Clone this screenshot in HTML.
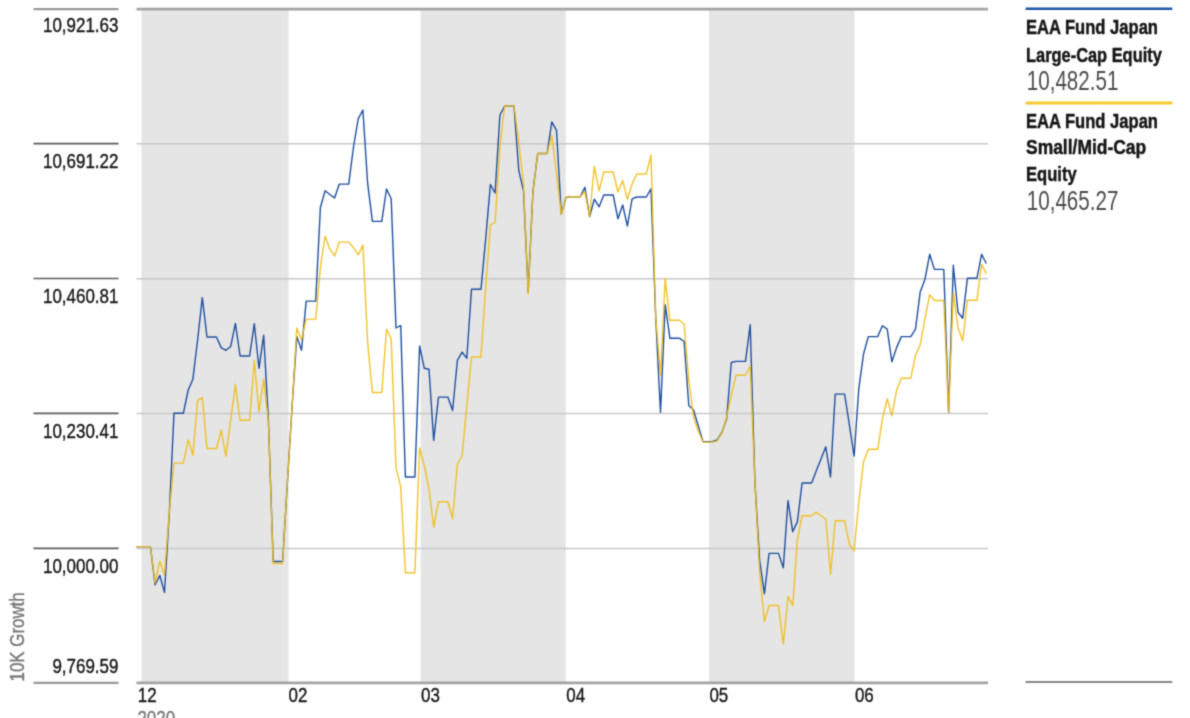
<!DOCTYPE html>
<html lang="en">
<head>
<meta charset="utf-8">
<title>10K Growth</title>
<style>
html,body{margin:0;padding:0;background:#fff;}
body{width:1190px;height:718px;overflow:hidden;}
svg{display:block;font-family:"Liberation Sans", sans-serif;}
</style>
</head>
<body>
<svg width="1190" height="718" viewBox="0 0 1190 718">
<defs><filter id="soft" x="0" y="0" width="1190" height="718" filterUnits="userSpaceOnUse" color-interpolation-filters="sRGB"><feConvolveMatrix order="3" kernelMatrix="1 4 1 4 16 4 1 4 1" divisor="36" edgeMode="duplicate" preserveAlpha="true"/></filter></defs>
<g filter="url(#soft)">
<rect width="1190" height="718" fill="#fff"/>
<g fill="#e5e5e5">
<rect x="141.5" y="10" width="147.1" height="673"/>
<rect x="420.6" y="10" width="145.2" height="673"/>
<rect x="709.0" y="10" width="145.5" height="673"/>
</g>
<g stroke="#c8c8c8" stroke-width="1.5">
<line x1="136.5" x2="988" y1="143.8" y2="143.8"/>
<line x1="136.5" x2="988" y1="278.7" y2="278.7"/>
<line x1="136.5" x2="988" y1="413.6" y2="413.6"/>
<line x1="136.5" x2="988" y1="548.5" y2="548.5"/>
</g>
<g stroke="#a3a3a3" stroke-width="2.6">
<line x1="136.5" x2="988" y1="9.1" y2="9.1"/>
<line x1="136.5" x2="988" y1="682.9" y2="682.9"/>
</g>
<g stroke="#999" stroke-width="2.4">
<line x1="33.5" x2="118.5" y1="9.1" y2="9.1"/>
<line x1="33.5" x2="118.5" y1="682.9" y2="682.9"/>
</g>
<g stroke="#5c5c5c" stroke-width="1.7">
<line x1="33.5" x2="118.5" y1="143.6" y2="143.6"/>
<line x1="33.5" x2="118.5" y1="278.5" y2="278.5"/>
<line x1="33.5" x2="118.5" y1="413.4" y2="413.4"/>
<line x1="33.5" x2="118.5" y1="548.3" y2="548.3"/>
</g>
<text transform="translate(118.4,32.4) scale(0.808,1)" font-size="21" fill="#161616" stroke="#161616" stroke-width="0.4" font-weight="normal" text-anchor="end">10,921.63</text>
<text transform="translate(118.4,168.0) scale(0.808,1)" font-size="21" fill="#161616" stroke="#161616" stroke-width="0.4" font-weight="normal" text-anchor="end">10,691.22</text>
<text transform="translate(118.4,302.8) scale(0.808,1)" font-size="21" fill="#161616" stroke="#161616" stroke-width="0.4" font-weight="normal" text-anchor="end">10,460.81</text>
<text transform="translate(118.4,437.8) scale(0.808,1)" font-size="21" fill="#161616" stroke="#161616" stroke-width="0.4" font-weight="normal" text-anchor="end">10,230.41</text>
<text transform="translate(118.4,572.7) scale(0.808,1)" font-size="21" fill="#161616" stroke="#161616" stroke-width="0.4" font-weight="normal" text-anchor="end">10,000.00</text>
<text transform="translate(118.4,673.3) scale(0.808,1)" font-size="21" fill="#161616" stroke="#161616" stroke-width="0.4" font-weight="normal" text-anchor="end">9,769.59</text>
<text transform="translate(24.3,681.5) rotate(-90) scale(0.805,1)" font-size="21" fill="#777" stroke="#777" stroke-width="0.4">10K Growth</text>
<text transform="translate(137.7,701.5) scale(0.808,1)" font-size="21" fill="#161616" stroke="#161616" stroke-width="0.4" font-weight="normal" text-anchor="start">12</text>
<text transform="translate(288.6,701.5) scale(0.808,1)" font-size="21" fill="#161616" stroke="#161616" stroke-width="0.4" font-weight="normal" text-anchor="start">02</text>
<text transform="translate(421.0,701.5) scale(0.808,1)" font-size="21" fill="#161616" stroke="#161616" stroke-width="0.4" font-weight="normal" text-anchor="start">03</text>
<text transform="translate(566.2,701.5) scale(0.808,1)" font-size="21" fill="#161616" stroke="#161616" stroke-width="0.4" font-weight="normal" text-anchor="start">04</text>
<text transform="translate(709.4,701.5) scale(0.808,1)" font-size="21" fill="#161616" stroke="#161616" stroke-width="0.4" font-weight="normal" text-anchor="start">05</text>
<text transform="translate(854.9,701.5) scale(0.808,1)" font-size="21" fill="#161616" stroke="#161616" stroke-width="0.4" font-weight="normal" text-anchor="start">06</text>
<text transform="translate(137.4,724.5) scale(0.808,1)" font-size="21" fill="#777" stroke="#777" stroke-width="0.4" font-weight="normal" text-anchor="start">2020</text>
<polyline fill="none" stroke="#1f4f9f" stroke-width="1.4" stroke-linejoin="round" points="136.2,546.6 140.9,546.6 145.6,546.6 150.4,546.6 155.1,584.8 159.8,575.5 164.5,592.4 169.3,513.0 174.0,413.2 178.7,413.2 183.4,413.2 188.2,390.0 192.9,379.2 197.6,340.0 202.3,297.7 207.0,337.0 211.8,337.0 216.5,337.0 221.2,347.6 225.9,350.3 230.7,346.5 235.4,323.4 240.1,356.0 244.8,356.0 249.6,356.0 254.3,323.8 259.0,368.3 263.7,335.2 268.4,420.0 273.2,561.5 277.9,561.5 282.6,561.5 287.3,484.0 292.1,406.0 296.8,336.4 301.5,350.3 306.2,301.1 311.0,301.1 315.7,301.1 320.4,207.5 325.1,190.7 329.8,194.5 334.6,197.9 339.3,184.1 344.0,184.1 348.7,184.1 353.5,147.0 358.2,118.8 362.9,110.0 367.6,182.8 372.4,221.4 377.1,221.4 381.8,221.4 386.5,189.0 391.2,198.7 396.0,328.0 400.7,325.5 405.4,477.0 410.1,477.0 414.9,477.0 419.6,346.0 424.3,368.3 429.0,369.2 433.7,440.4 438.5,397.1 443.2,397.1 447.9,397.1 452.6,410.5 457.4,360.3 462.1,352.2 466.8,358.2 471.5,289.3 476.3,289.3 481.0,289.3 485.7,238.7 490.4,184.5 495.1,193.0 499.9,115.2 504.6,106.0 509.3,106.0 514.0,106.0 518.8,170.7 523.5,190.8 528.2,292.0 532.9,192.0 537.7,153.5 542.4,153.5 547.1,153.5 551.8,121.9 556.5,130.3 561.3,214.2 566.0,197.4 570.7,196.8 575.4,196.8 580.2,196.8 584.9,187.3 589.6,216.7 594.3,199.2 599.1,206.8 603.8,195.0 608.5,195.0 613.2,195.0 617.9,218.7 622.7,205.0 627.4,226.0 632.1,198.9 636.8,197.0 641.6,197.0 646.3,197.0 651.0,188.8 655.7,317.0 660.5,412.2 665.2,304.6 669.9,338.2 674.6,338.2 679.3,338.2 684.1,341.5 688.8,405.5 693.5,409.7 698.2,425.6 703.0,441.6 707.7,441.6 712.4,441.6 717.1,440.0 721.9,432.4 726.6,419.0 731.3,362.5 736.0,361.4 740.7,361.4 745.5,361.4 750.2,324.8 754.9,482.0 759.6,560.0 764.4,593.8 769.1,553.4 773.8,553.4 778.5,553.4 783.3,567.7 788.0,500.6 792.7,531.7 797.4,521.6 802.1,483.0 806.9,483.0 811.6,483.0 816.3,470.8 821.0,458.9 825.8,446.8 830.5,477.0 835.2,394.1 839.9,394.1 844.6,394.1 849.4,425.0 854.1,456.0 858.8,388.7 863.5,354.3 868.3,336.6 873.0,336.6 877.7,336.6 882.4,325.7 887.2,329.1 891.9,361.8 896.6,347.6 901.3,336.6 906.0,336.6 910.8,336.6 915.5,329.1 920.2,292.1 924.9,279.5 929.7,254.3 934.4,269.4 939.1,269.4 943.8,269.4 948.6,412.3 953.3,265.2 958.0,312.3 962.7,318.2 967.4,278.3 972.2,278.3 976.9,278.3 981.6,254.3 986.3,263.5"/>
<polyline fill="none" stroke="#f0bd18" stroke-opacity="0.92" stroke-width="1.4" stroke-linejoin="round" points="136.2,546.6 140.9,546.6 145.6,546.6 150.4,546.6 155.1,583.0 159.8,561.3 164.5,574.7 169.3,512.0 174.0,463.1 178.7,463.1 183.4,463.1 188.2,439.6 192.9,455.2 197.6,400.4 202.3,397.6 207.0,448.5 211.8,448.5 216.5,448.5 221.2,430.0 225.9,456.4 230.7,420.0 235.4,384.3 240.1,420.3 244.8,420.3 249.6,420.3 254.3,360.8 259.0,411.8 263.7,379.2 268.4,422.0 273.2,563.5 277.9,563.5 282.6,563.5 287.3,484.0 292.1,406.0 296.8,328.0 301.5,339.7 306.2,319.1 311.0,319.1 315.7,319.1 320.4,267.6 325.1,236.1 329.8,249.2 334.6,255.9 339.3,242.1 344.0,242.1 348.7,242.1 353.5,247.5 358.2,255.0 362.9,245.0 367.6,342.0 372.4,392.5 377.1,392.5 381.8,392.5 386.5,329.2 391.2,338.9 396.0,467.3 400.7,486.6 405.4,572.8 410.1,572.8 414.9,572.8 419.6,448.0 424.3,465.6 429.0,489.2 433.7,527.0 438.5,501.8 443.2,501.8 447.9,501.8 452.6,518.7 457.4,464.0 462.1,456.0 466.8,406.0 471.5,357.0 476.3,357.0 481.0,357.0 485.7,287.0 490.4,225.0 495.1,222.3 499.9,147.0 504.6,106.0 509.3,106.0 514.0,106.0 518.8,142.0 523.5,184.0 528.2,294.0 532.9,192.0 537.7,153.5 542.4,153.5 547.1,153.5 551.8,135.4 556.5,174.0 561.3,214.2 566.0,197.4 570.7,196.8 575.4,196.8 580.2,196.8 584.9,191.7 589.6,216.7 594.3,166.5 599.1,190.8 603.8,172.0 608.5,172.0 613.2,172.0 617.9,192.0 622.7,180.6 627.4,199.3 632.1,184.0 636.8,174.0 641.6,174.0 646.3,174.0 651.0,154.9 655.7,317.0 660.5,375.0 665.2,278.6 669.9,320.3 674.6,320.3 679.3,320.3 684.1,324.0 688.8,380.0 693.5,417.0 698.2,430.7 703.0,442.1 707.7,442.1 712.4,442.1 717.1,440.8 721.9,433.2 726.6,417.2 731.3,395.4 736.0,375.2 740.7,375.2 745.5,375.2 750.2,366.0 754.9,482.0 759.6,572.0 764.4,621.5 769.1,605.5 773.8,605.5 778.5,605.5 783.3,644.2 788.0,596.3 792.7,605.5 797.4,539.0 802.1,515.7 806.9,515.7 811.6,515.7 816.3,512.4 821.0,515.7 825.8,519.0 830.5,574.5 835.2,520.8 839.9,520.8 844.6,520.8 849.4,544.3 854.1,550.9 858.8,502.3 863.5,462.0 868.3,449.3 873.0,449.3 877.7,449.3 882.4,419.0 887.2,398.8 891.9,415.6 896.6,390.4 901.3,378.3 906.0,378.3 910.8,378.3 915.5,355.1 920.2,345.0 924.9,319.0 929.7,294.6 934.4,300.5 939.1,300.5 943.8,300.5 948.6,412.3 953.3,293.0 958.0,327.4 962.7,340.8 967.4,300.2 972.2,300.2 976.9,300.2 981.6,264.4 986.3,273.6"/>
<line x1="1025.6" x2="1172.3" y1="8.8" y2="8.8" stroke="#1f55a5" stroke-width="2.6"/>
<text transform="translate(1026,34.3) scale(0.805,1)" font-size="20.6" fill="#151515" stroke="#151515" stroke-width="0.45" font-weight="bold" text-anchor="start">EAA Fund Japan</text>
<text transform="translate(1026,61.6) scale(0.797,1)" font-size="20.6" fill="#151515" stroke="#151515" stroke-width="0.45" font-weight="bold" text-anchor="start">Large-Cap Equity</text>
<text transform="translate(1026.8,90.2) scale(0.73,1)" font-size="28.2" fill="#4d4d4d" font-weight="normal" text-anchor="start">10,482.51</text>
<line x1="1025.6" x2="1172.3" y1="103" y2="103" stroke="#f5c730" stroke-width="3"/>
<text transform="translate(1026,128.3) scale(0.805,1)" font-size="20.6" fill="#151515" stroke="#151515" stroke-width="0.45" font-weight="bold" text-anchor="start">EAA Fund Japan</text>
<text transform="translate(1026,153.5) scale(0.848,1)" font-size="20.6" fill="#151515" stroke="#151515" stroke-width="0.45" font-weight="bold" text-anchor="start">Small/Mid-Cap</text>
<text transform="translate(1026,181.0) scale(0.805,1)" font-size="20.6" fill="#151515" stroke="#151515" stroke-width="0.45" font-weight="bold" text-anchor="start">Equity</text>
<text transform="translate(1026.8,210.3) scale(0.73,1)" font-size="28.2" fill="#4d4d4d" font-weight="normal" text-anchor="start">10,465.27</text>
<line x1="1025.6" x2="1172.3" y1="682.1" y2="682.1" stroke="#5e5e5e" stroke-width="1.5"/>
</g>
</svg>
</body>
</html>
